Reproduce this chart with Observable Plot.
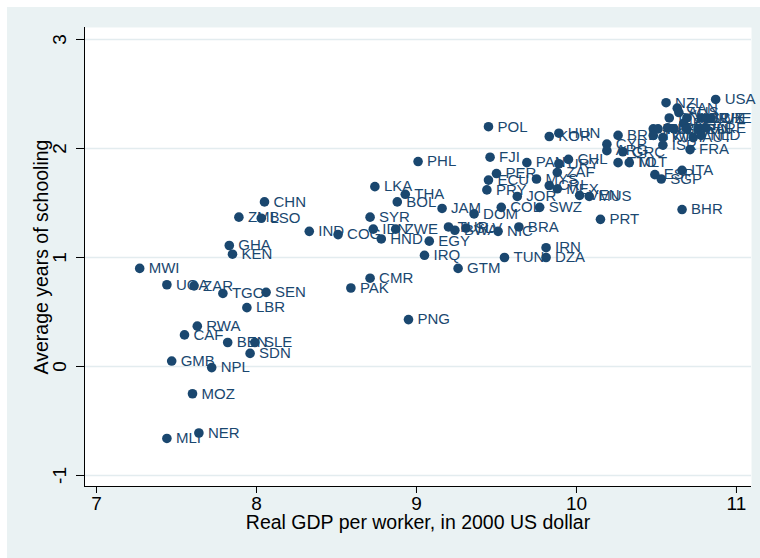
<!DOCTYPE html>
<html>
<head>
<meta charset="utf-8">
<script src="https://cdn.jsdelivr.net/npm/d3@7"></script>
<script src="https://cdn.jsdelivr.net/npm/@observablehq/plot@0.6"></script>
<style>
  html, body { margin: 0; padding: 0; background: #ffffff; }
  #wrap { position: absolute; left: 7px; top: 7px; width: 753px; height: 551px; background: #eaf2f3; }
  #wrap svg { display: block; }
</style>
</head>
<body>
<div id="wrap"></div>
<script>
// Country codes, log real GDP per worker (2000 US$), log average years of schooling
const codes = ["MWI","UGA","ZAR","TGO","SEN","LBR","RWA","CAF","BEN","SLE","SDN","GMB","NPL","MOZ","MLI","NER",
  "GHA","KEN","CHN","ZMB","LSO","IND","COG","PAK","CMR","PNG",
  "PHL","LKA","THA","BOL","SYR","IDN","ZWE","HND","EGY","IRQ","JAM","DOM","TUR","BWA","SLV","NIC","BRA","COL","SWZ","IRN","DZA","TUN","GTM",
  "POL","FJI","PAN","PER","ECU","PRY","JOR","MYS","HUN","KOR","CHL","URY","ZAF","CRI","MEX","VEN","MUS","PRT","BHR",
  "BRB","CYP","ARG","GRC","TTO","MLT","ITA","ESP","SGP","FRA",
  "NZL","USA","CAN","AUS","DNK","NOR","SWE","LUX","CHE","BEL","IRL","HKG","JPN","GBR","DEU","FIN","ARE","TWN","KWT","ISR","AUT","NLD"];
const gdp = [7.27,7.44,7.61,7.79,8.06,7.94,7.63,7.55,7.82,7.99,7.96,7.47,7.72,7.60,7.44,7.64,
  7.83,7.85,8.05,7.89,8.03,8.33,8.51,8.59,8.71,8.95,
  9.01,8.74,8.93,8.88,8.71,8.73,8.87,8.78,9.08,9.05,9.16,9.36,9.20,9.24,9.31,9.51,9.64,9.53,9.77,9.81,9.81,9.55,9.26,
  9.45,9.46,9.69,9.50,9.45,9.44,9.63,9.75,9.89,9.83,9.95,9.89,9.88,9.83,9.88,10.02,10.08,10.15,10.66,
  10.26,10.19,10.19,10.29,10.26,10.33,10.66,10.49,10.53,10.71,
  10.56,10.87,10.63,10.64,10.58,10.69,10.78,10.81,10.84,10.67,10.48,10.51,10.57,10.61,10.69,10.76,10.81,10.48,10.54,10.54,10.73,10.78];
const school = [0.90,0.75,0.74,0.67,0.68,0.54,0.37,0.29,0.22,0.22,0.12,0.05,-0.01,-0.25,-0.66,-0.61,
  1.11,1.03,1.51,1.37,1.36,1.24,1.21,0.72,0.81,0.43,
  1.88,1.65,1.58,1.51,1.37,1.26,1.26,1.17,1.15,1.02,1.45,1.40,1.28,1.25,1.27,1.24,1.28,1.46,1.46,1.09,1.00,1.00,0.90,
  2.20,1.92,1.87,1.77,1.71,1.62,1.56,1.72,2.14,2.11,1.90,1.86,1.78,1.66,1.63,1.57,1.56,1.35,1.44,
  2.12,2.04,1.98,1.97,1.87,1.87,1.80,1.76,1.72,1.99,
  2.42,2.45,2.37,2.33,2.28,2.28,2.28,2.28,2.28,2.23,2.18,2.18,2.19,2.18,2.18,2.18,2.19,2.12,2.10,2.03,2.10,2.12];

const xTicks = [7, 8, 9, 10, 11];
const yTicks = [-1, 0, 1, 2, 3];
const xDomain = [6.925, 11.094];
const yDomain = [-1.101, 3.11];
const xTitle = "Real GDP per worker, in 2000 US dollar";
const yTitle = "Average years of schooling";

const data = codes.map((c, i) => ({code: c, x: gdp[i], y: school[i]}));
const navy = "#1a476f";

const chart = Plot.plot({
  width: 753,
  height: 551,
  marginLeft: 77,
  marginRight: 9,
  marginTop: 20,
  marginBottom: 72,
  style: {fontFamily: "'Liberation Sans', Arial, sans-serif", background: "transparent", color: "#000"},
  x: {domain: xDomain},
  y: {domain: yDomain},
  marks: [
    Plot.frame({fill: "white", stroke: null}),
    Plot.gridY(yTicks, {stroke: "#e3ecef", strokeOpacity: 1, strokeWidth: 1.6}),
    Plot.ruleX([xDomain[0]], {stroke: "#000", strokeWidth: 1}),
    Plot.ruleY([yDomain[0]], {stroke: "#000", strokeWidth: 1}),
    Plot.axisX(xTicks, {tickSize: 7, tickPadding: 3, fontSize: 19, label: null, stroke: "#000", tickFormat: d => String(d)}),
    Plot.axisY(yTicks, {tickSize: 8, tickPadding: 11, tickRotate: -90, fontSize: 19, label: null, stroke: "#000", tickFormat: d => String(d)}),
    Plot.dot(data, {x: "x", y: "y", r: 4.8, fill: navy, stroke: null}),
    Plot.text(data, {x: "x", y: "y", text: "code", dx: 9, textAnchor: "start", fill: navy, fontSize: 15}),
    Plot.text([xTitle], {frameAnchor: "bottom", text: d => d, dy: 36, lineAnchor: "middle", textAnchor: "middle", fontSize: 19.5, fill: "#000"}),
    Plot.text([yTitle], {frameAnchor: "left", text: d => d, dx: -43, rotate: -90, lineAnchor: "middle", textAnchor: "middle", fontSize: 19.5, fill: "#000"})
  ]
});
document.getElementById("wrap").appendChild(chart);
</script>
</body>
</html>
